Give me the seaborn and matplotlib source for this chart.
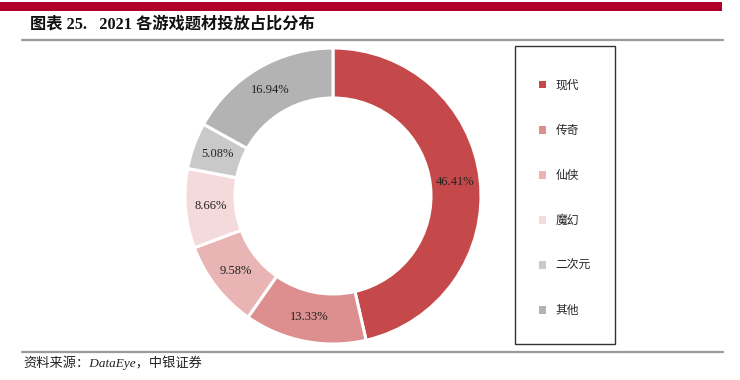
import matplotlib
matplotlib.use("Agg")
import matplotlib.pyplot as plt
import seaborn as sns
from matplotlib.patches import Rectangle
from matplotlib.lines import Line2D

categories = ["现代", "传奇", "仙侠", "魔幻", "二次元", "其他"]
values = [46.41, 13.33, 9.58, 8.66, 5.08, 16.94]
colors = ["#C5494A", "#DD8E8E", "#E8B4B4", "#F5DADB", "#C9C9C9", "#B3B3B3"]
title = "图表 25.   2021 各游戏题材投放占比分布"
source = "资料来源：DataEye，中银证券"

sns.set_theme(style="white")
plt.rcParams["font.family"] = ["Liberation Serif", "Noto Sans CJK SC", "DejaVu Sans"]

W, H = 740, 380
fig = plt.figure(figsize=(W / 100, H / 100), dpi=100)

def fx(px):
    return px / W

def fy(py):
    return 1 - py / H

# top red bar
fig.add_artist(Rectangle((0, fy(11)), fx(722), 9 / H, transform=fig.transFigure,
                         color="#B0002A", lw=0))
# title
fig.text(fx(30), fy(25), title, fontsize=11.7, fontweight="bold", va="center", ha="left",
         color="#111111")
# separator lines
fig.add_artist(Line2D([fx(22), fx(723)], [fy(40), fy(40)], color="#9A9A9A", lw=1.6))
fig.add_artist(Line2D([fx(22), fx(723)], [fy(352), fy(352)], color="#9A9A9A", lw=1.6))
# source
fig.text(fx(23), fy(363), source, fontsize=9.5, style="italic", va="center", ha="left",
         color="#222222")

# donut
cx, cy, R = 333, 196, 148
half = 152
ax = fig.add_axes([fx(cx - half), fy(cy + half), 2 * half / W, 2 * half / H])
wedges, texts, autotexts = ax.pie(
    values, colors=colors, startangle=90, counterclock=False, radius=1.0,
    autopct=lambda p: "", pctdistance=0.83,
    wedgeprops=dict(width=50 / R, edgecolor="white", linewidth=2.2),
)
for w, v, t in zip(wedges, values, autotexts):
    t.set_text(f"{v:.2f}%")
    t.set_fontsize(9)
    t.set_color("#222222")
lim = half / R
ax.set_xlim(-lim, lim)
ax.set_ylim(-lim, lim)
ax.set_aspect("equal")
ax.axis("off")

# legend box
fig.add_artist(Rectangle((fx(515), fy(344)), fx(615) - fx(515), (344 - 46) / H,
                         transform=fig.transFigure, fill=False, edgecolor="#333333", lw=1.0))
leg = fig.legend(wedges, categories, loc="upper left", bbox_to_anchor=(fx(533), fy(74)),
                 frameon=False, fontsize=8.5, handlelength=0.6, handleheight=0.6,
                 handletextpad=0.8, labelspacing=2.8, borderpad=0)
for h in leg.legend_handles:
    h.set_edgecolor("none")

fig.savefig("out.png", dpi=100)
